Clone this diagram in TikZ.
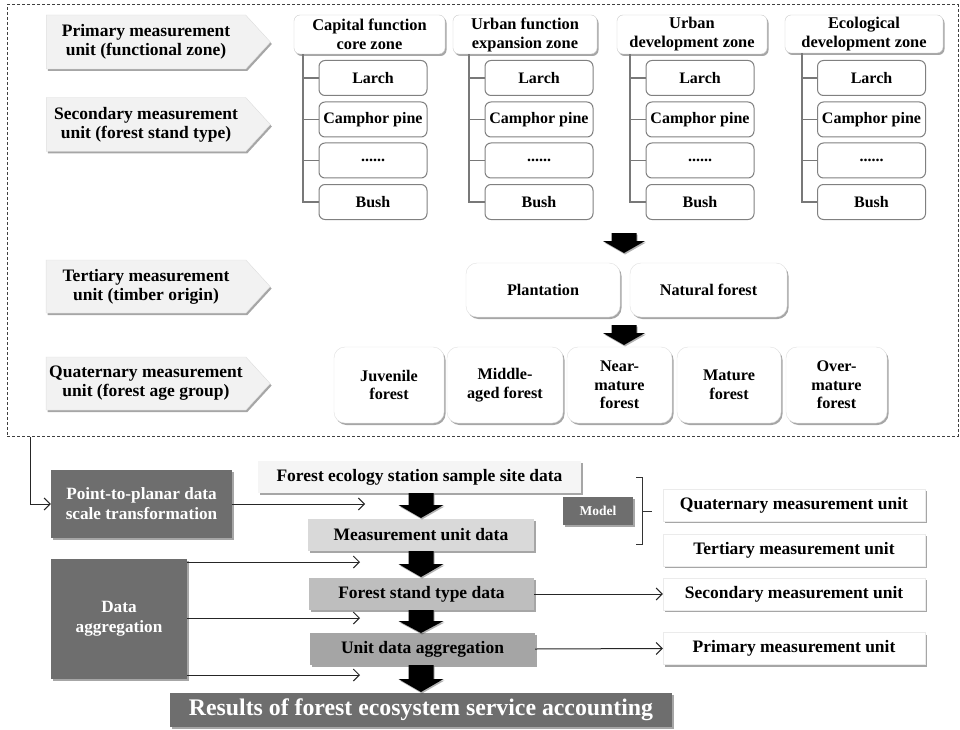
\documentclass[tikz,border=0pt]{standalone}
\usepackage{fontspec}
\setmainfont{Liberation Serif}
\usetikzlibrary{shapes.symbols,shadows,arrows.meta}
\definecolor{dgray}{RGB}{110,110,110}
\definecolor{lblgray}{RGB}{242,242,242}
\definecolor{fegray}{RGB}{245,245,245}
\definecolor{mugray}{RGB}{217,217,217}
\definecolor{fsgray}{RGB}{190,190,190}
\definecolor{uagray}{RGB}{165,165,165}
\definecolor{linegray}{RGB}{120,120,120}
\tikzset{
  shad/.style={drop shadow={shadow xshift=1.5pt,shadow yshift=-2pt,fill=black,opacity=.35}},
  lbl/.style={shape=signal, signal to=east, signal pointer angle=95, fill=lblgray, draw=black!12,
     shad, inner sep=0pt, align=center, font=\fontsize{17.5}{19}\selectfont\bfseries},
  hdr/.style={rectangle, rounded corners=6pt, draw=black!20, fill=white, shad, inner sep=0pt,
     align=center, font=\fontsize{16.4}{19}\selectfont\bfseries},
  leaf/.style={rectangle, rounded corners=6pt, draw=black!50, line width=1pt, fill=white, inner sep=0pt,
     align=center, font=\fontsize{16}{18}\selectfont\bfseries},
  rbox/.style={rectangle, rounded corners=11pt, draw=black!12, fill=white, shad, inner sep=0pt,
     align=center, font=\fontsize{16.2}{18.5}\selectfont\bfseries},
  dbox/.style={rectangle, fill=dgray, text=white, shad, inner sep=0pt, align=center,
     font=\fontsize{17.2}{20}\selectfont\bfseries},
  fbox/.style={rectangle, shad, inner sep=0pt, align=center, font=\fontsize{17.5}{19}\selectfont\bfseries},
  wbox/.style={rectangle, fill=white, draw=black!8, shad, inner sep=0pt, align=center,
     font=\fontsize{17.5}{19}\selectfont\bfseries},
  tree/.style={draw=linegray, line width=1.5pt},
  conn/.style={draw=black!85, line width=1pt, -{Straight Barb[length=6pt,width=12pt,line width=1pt]}},
  blk/.style={fill=black, drop shadow={shadow xshift=1pt,shadow yshift=-1.5pt,fill=black,opacity=.3}}
}
\newcommand\blkarrow[5]{% x, top, shoulder, tip, head half width
  \path[blk] (#1-12.5,#2) -- (#1+12.5,#2) -- (#1+12.5,#3) -- (#1+#5,#3) -- (#1,#4) -- (#1-#5,#3) -- (#1-12.5,#3) -- cycle;}
\begin{document}
\begin{tikzpicture}[x=1pt,y=-1pt]
\useasboundingbox (0,0) rectangle (960,730);
\fill[white] (0,0) rectangle (960,730);
% dashed frame
\node[draw=black!75, dashed, dash pattern=on 3pt off 2pt, line width=1pt, minimum width=951pt, minimum height=431pt, inner sep=0pt] (frame) at (482.5,220.5) {};
% left labels
\node[lbl, minimum width=224pt, minimum height=54pt] (l1) at (146,42) {Primary measurement\\unit (functional zone)};
\node[lbl, minimum width=224pt, minimum height=54pt] (l2) at (146,124.5) {Secondary measurement\\unit (forest stand type)};
\node[lbl, minimum width=224pt, minimum height=53pt] (l3) at (146,286.5) {Tertiary measurement\\unit (timber origin)};
\node[lbl, minimum width=224pt, minimum height=53pt] (l4) at (146,383.5) {Quaternary measurement\\unit (forest age group)};
% zone headers
\node[hdr, minimum width=151pt, minimum height=39pt] (z1) at (369.5,34.5) {Capital function\\core zone};
\node[hdr, minimum width=144pt, minimum height=39pt] (z2) at (525,34.5) {Urban function\\expansion zone};
\node[hdr, minimum width=150pt, minimum height=39pt] (z3) at (692,34.5) {Urban\\development zone};
\node[hdr, minimum width=158pt, minimum height=38pt] (z4) at (864,34) {Ecological\\development zone};
% leaves
\foreach \z/\cx/\tx in {1/373/303, 2/539/469, 3/700/630, 4/871.5/802}{
  \node[leaf, minimum width=108pt, minimum height=35pt] (a\z) at (\cx,78) {Larch};
  \node[leaf, minimum width=108pt, minimum height=35pt] (b\z) at (\cx,119.5) {Camphor pine};
  \node[leaf, minimum width=108pt, minimum height=35pt] (c\z) at (\cx,160.5) {......};
  \node[leaf, minimum width=108pt, minimum height=35pt] (d\z) at (\cx,202) {Bush};
  \draw[tree] (\tx,0 |- z\z.south) -- (\tx,0 |- d\z.west) -- (d\z.west);
  \draw[tree] (\tx,0 |- a\z.west) -- (a\z.west);
  \draw[tree] (\tx,0 |- b\z.west) -- (b\z.west);
  \draw[tree] (\tx,0 |- c\z.west) -- (c\z.west);
}
% block arrows top
\blkarrow{624}{233}{241}{253}{21}
% timber origin
\node[rbox, minimum width=154pt, minimum height=54pt] (pl) at (543,290) {Plantation};
\node[rbox, minimum width=157pt, minimum height=54pt] (nf) at (708.5,290) {Natural forest};
\blkarrow{624}{325}{333}{345}{21}
% age groups
\node[rbox, minimum width=110pt, minimum height=76pt] (g1) at (389,385) {Juvenile\\forest};
\node[rbox, minimum width=116pt, minimum height=76pt] (g2) at (505,385) {Middle-\\aged forest};
\node[rbox, minimum width=105pt, minimum height=76pt] (g3) at (619.5,385) {Near-\\mature\\forest};
\node[rbox, minimum width=104pt, minimum height=76pt] (g4) at (729,385) {Mature\\forest};
\node[rbox, minimum width=101pt, minimum height=76pt] (g5) at (836.5,385) {Over-\\mature\\forest};
% bottom part
\node[dbox, minimum width=181pt, minimum height=68pt] (pp) at (141.5,504) {Point-to-planar data\\scale transformation};
\node[dbox, minimum width=136pt, minimum height=120pt] (da) at (119,619) {Data\\aggregation};
\node[fbox, fill=fegray, minimum width=323pt, minimum height=32pt] (fe) at (419.5,477) {Forest ecology station sample site data};
\node[fbox, fill=mugray, minimum width=226pt, minimum height=32pt] (mu) at (421,535) {Measurement unit data};
\node[fbox, fill=fsgray, minimum width=225pt, minimum height=32pt] (fs) at (421.5,594) {Forest stand type data};
\node[fbox, fill=uagray, minimum width=225pt, minimum height=32pt] (ua) at (422.5,649) {Unit data aggregation};
\node[dbox, minimum width=502pt, minimum height=34pt, font=\fontsize{23.8}{26}\selectfont\bfseries] (rs) at (421,710) {Results of forest ecosystem service accounting};
\node[dbox, minimum width=70pt, minimum height=28pt, font=\fontsize{13.5}{15}\selectfont\bfseries] (md) at (598,511) {Model};
\node[wbox, minimum width=262pt, minimum height=32pt] (rq) at (794,505) {Quaternary measurement unit};
\node[wbox, minimum width=262pt, minimum height=32pt] (rt) at (794,550) {Tertiary measurement unit};
\node[wbox, minimum width=262pt, minimum height=32pt] (rsd) at (794,594) {Secondary measurement unit};
\node[wbox, minimum width=262pt, minimum height=32pt] (rp) at (794,648.5) {Primary measurement unit};
% bottom block arrows
\blkarrow{421}{493}{505}{518}{22.5}
\blkarrow{421}{551}{564}{577}{22.5}
\blkarrow{421}{610}{621}{633}{22.5}
\blkarrow{421}{665}{679}{692}{22.5}
% bracket
\draw[black!80, line width=1pt] (636,477) -- (642,477) -- (642,544) -- (636,544);
\draw[black!80, line width=1pt] (642,511) -- (652,511);
% connectors
\coordinate (c0) at (30,0 |- frame.south);
\draw[conn] (c0) |- (pp.west);
\coordinate (e1) at (365,504);
\draw[conn] (pp.east |- e1) -- (e1);
\coordinate (e2) at (360,562);
\coordinate (e3) at (360,618);
\coordinate (e4) at (360,675);
\draw[conn] (da.east |- e2) -- (e2);
\draw[conn] (da.east |- e3) -- (e3);
\draw[conn] (da.east |- e4) -- (e4);
\draw[conn] (fs.east) -- (rsd.west);
\draw[conn] (ua.east) -- (rp.west);
\end{tikzpicture}
\end{document}
